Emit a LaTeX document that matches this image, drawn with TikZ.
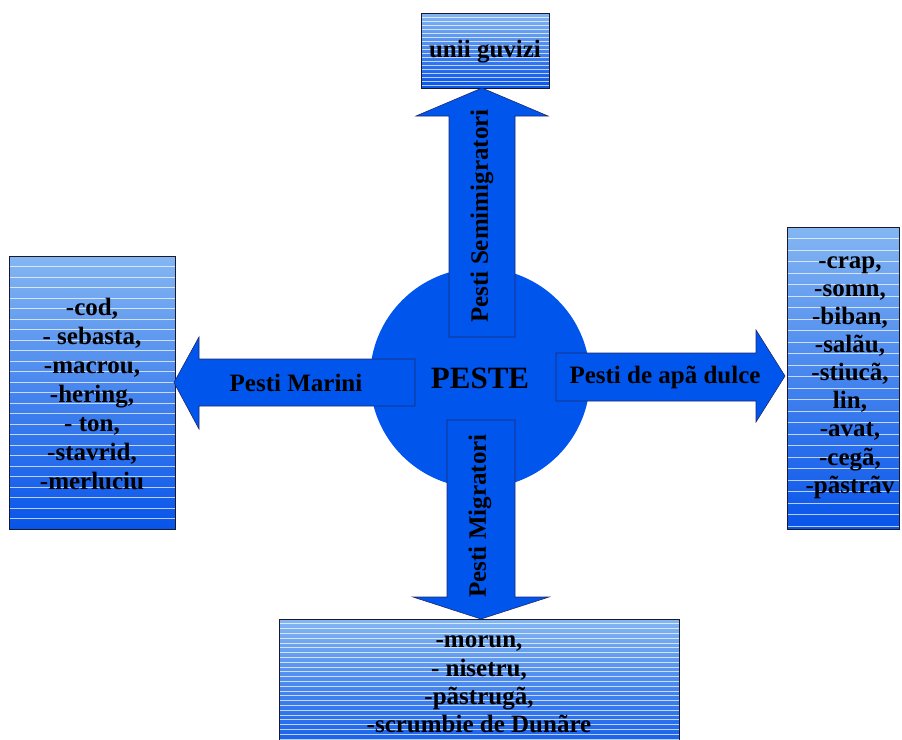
\documentclass[tikz,border=0pt]{standalone}
\usepackage{fontspec}
\setmainfont{Liberation Serif}
\definecolor{fishblue}{RGB}{0,86,236}
\definecolor{arrowedge}{RGB}{30,40,110}
\definecolor{paneltop}{RGB}{132,182,242}
\definecolor{panelbot}{RGB}{8,84,234}
\definecolor{paneledge}{RGB}{25,25,45}
\tikzset{
  panel/.style={draw=paneledge, line width=0.9pt, top color=paneltop, bottom color=panelbot,
    inner sep=0pt, rectangle,
    path picture={\foreach \k in {1,...,80}{
      \draw[white, opacity=0.7, line width=0.7pt]
        ([yshift={-\k*#1}]path picture bounding box.north west) --
        ([yshift={-\k*#1}]path picture bounding box.north east);}}},
  blockarrow/.style={fill=fishblue, draw=arrowedge, line width=0.6pt},
  label/.style={font=\bfseries\fontsize{25}{29}\selectfont, text=black, inner sep=0pt},
  list/.style={label, align=center},
}
\begin{document}
\begin{tikzpicture}[x=1pt,y=-1pt]
\useasboundingbox (0,0) rectangle (902,739);

% central disc
\node[circle, fill=fishblue, minimum size=220pt, inner sep=0pt] (peste) at (480,378) {};

% panels with the fish lists
\node[panel=4, minimum width=128pt, minimum height=75pt] (guvizi) at (485,50.5) {};
\node[panel=10.5, minimum width=166pt, minimum height=273pt] (marini) at (92,392.5) {};
\node[panel=11.5, minimum width=112pt, minimum height=302pt] (dulce) at (843,378) {};
\node[panel=4.8, minimum width=400pt, minimum height=141pt] (migr) at (479,689.5) {};

% block arrows leaving the disc
\path[blockarrow] (415,359) -- (199,359) -- (199,337) -- (174,382.5) -- (199,429) -- (199,406) -- (415,406) -- cycle;
\path[blockarrow] (556,353) -- (756,353) -- (756,330) -- (785,376) -- (756,422) -- (756,401) -- (556,401) -- cycle;
\path[blockarrow] (449,337) -- (449,116) -- (416,116) -- (482,88) -- (548,116) -- (515,116) -- (515,337) -- cycle;
\path[blockarrow] (447,420) -- (447,597) -- (413,597) -- (481,619) -- (549,597) -- (515,597) -- (515,420) -- cycle;

% arrow captions
\node[label] (lmar) at (296,383) {Pesti Marini};
\node[label] (ldul) at (665,377) {Pesti de apã dulce};
\node[label, rotate=90] (lsemi) at (482,216) {Pesti Semimigratori};
\node[label, rotate=90] (lmig) at (480,516) {Pesti Migratori};

% centre caption
\node[label, font=\bfseries\fontsize{31}{35}\selectfont] at (peste.center) {PESTE};

% panel texts
\node[list] at (485,52) {unii guvizi};
\node[list] at (92,394) {-cod,\\- sebasta,\\-macrou,\\-hering,\\- ton,\\-stavrid,\\-merluciu};
\node[list, font=\bfseries\fontsize{25}{28.1}\selectfont] at (850,377.5) {-crap,\\-somn,\\-biban,\\-salãu,\\-stiucã,\\lin,\\-avat,\\-cegã,\\-pãstrãv};
\node[list, font=\bfseries\fontsize{25}{28.3}\selectfont] at (479,684.5) {-morun,\\- nisetru,\\-pãstrugã,\\-scrumbie de Dunãre};
\end{tikzpicture}
\end{document}
